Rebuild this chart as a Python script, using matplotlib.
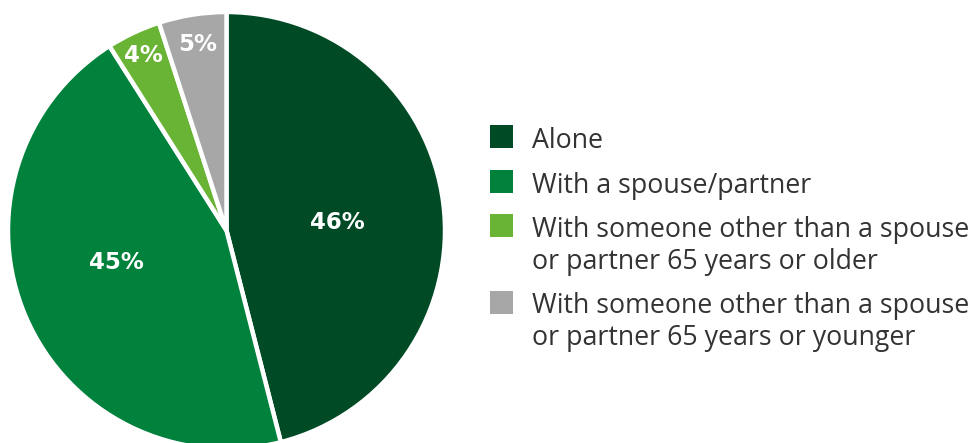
import matplotlib
matplotlib.use("Agg")
import matplotlib.pyplot as plt
from matplotlib.patches import Rectangle
import numpy as np

labels = [
    "Alone",
    "With a spouse/partner",
    "With someone other than a spouse\nor partner 65 years or older",
    "With someone other than a spouse\nor partner 65 years or younger",
]
values = [46, 45, 4, 5]
pct_text = ["46%", "45%", "4%", "5%"]
colors = ["#004B25", "#00813C", "#6AB435", "#A7A7A7"]

# percentage label placement: radial distance and angular nudge (deg)
label_dist = [0.507, 0.523, 0.889, 0.859]
label_nudge = [-2.8, -6.9, 0.2, -0.3]

W, H = 977, 443
fig = plt.figure(figsize=(W / 100, H / 100), dpi=100)

# pie axes: centre (226.5, 230.5) px from top-left, radius 218.5 px
cx, cy, r = 226.5, 230.5, 218.5
ax = fig.add_axes([(cx - r) / W, (H - cy - r) / H, 2 * r / W, 2 * r / H])
wedges, _ = ax.pie(values, colors=colors, startangle=90, counterclock=False,
                   radius=1.0, wedgeprops=dict(edgecolor="white", linewidth=3.2))
ax.set_xlim(-1, 1)
ax.set_ylim(-1, 1)
ax.set_aspect("equal")
ax.axis("off")

for w, t, d, n in zip(wedges, pct_text, label_dist, label_nudge):
    ang = np.deg2rad((w.theta1 + w.theta2) / 2 + n)
    ax.text(d * np.cos(ang), d * np.sin(ang), t, ha="center", va="center",
            color="white", fontsize=16.5, fontweight="bold", family="DejaVu Sans")

# legend: swatch + label lines, laid out in pixel units from the top-left
sw_x, sw_size, txt_x = 490, 23, 532
first_base = 148
entry_gap, line_gap = 44.5, 32
base = first_base
for lab, col in zip(labels, colors):
    fig.add_artist(Rectangle((sw_x / W, (H - base) / H), sw_size / W, sw_size / H,
                             transform=fig.transFigure, facecolor=col,
                             edgecolor="none"))
    for i, line in enumerate(lab.split("\n")):
        fig.text(txt_x / W, (H - base - i * line_gap) / H, line,
                 ha="left", va="baseline", color="#333333",
                 fontsize=19.3, family="Open Sans")
    base += entry_gap + line_gap * lab.count("\n")

fig.savefig("out.png", dpi=100)
